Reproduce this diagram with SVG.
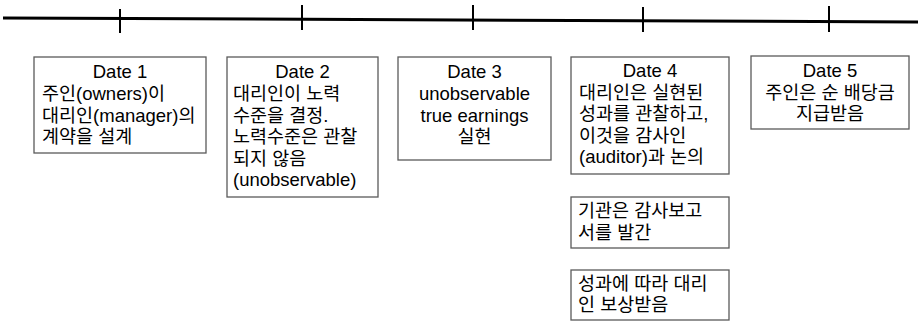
<svg xmlns="http://www.w3.org/2000/svg" width="918" height="322" viewBox="0 0 918 322">
<style>
.box{fill:#fff;stroke:#5a5a5a;stroke-width:1.3}
.t{font-family:"Liberation Sans","Noto Sans CJK KR",sans-serif;font-size:18.5px;fill:#000}
.c{text-anchor:middle}
.tick{stroke:#000;stroke-width:2}
</style>
<rect width="918" height="322" fill="#fff"/>
<g id="timeline">
<line x1="3" y1="18" x2="918" y2="22" stroke="#000" stroke-width="3"/>
<line class="tick" x1="120" y1="9" x2="120" y2="33"/>
<line class="tick" x1="302" y1="5" x2="302" y2="30"/>
<line class="tick" x1="473" y1="5" x2="473" y2="30"/>
<line class="tick" x1="643" y1="7" x2="643" y2="32"/>
<line class="tick" x1="829" y1="6" x2="829" y2="32"/>
</g>
<g id="connectors"></g>
<g id="date1">
<rect class="box" x="34" y="57" width="172" height="96"/>
<text class="t"><tspan class="c" x="120" y="78">Date 1</tspan><tspan x="42" y="100">주인(owners)이</tspan><tspan x="42" y="121.5">대리인(manager)의</tspan><tspan x="42" y="143">계약을 설계</tspan></text>
</g>
<g id="date2">
<rect class="box" x="227" y="57" width="151" height="140"/>
<text class="t"><tspan class="c" x="302.5" y="78">Date 2</tspan><tspan x="233" y="100">대리인이 노력</tspan><tspan x="233" y="121.5">수준을 결정.</tspan><tspan x="233" y="143">노력수준은 관찰</tspan><tspan x="233" y="164.5">되지 않음</tspan><tspan x="233" y="186">(unobservable)</tspan></text>
</g>
<g id="date3">
<rect class="box" x="398" y="57" width="153" height="103"/>
<text class="t c"><tspan x="474.5" y="78">Date 3</tspan><tspan x="474.5" y="100">unobservable</tspan><tspan x="474.5" y="121.5">true earnings</tspan><tspan x="474.5" y="143">실현</tspan></text>
</g>
<g id="date4">
<rect class="box" x="571" y="57" width="158" height="117"/>
<text class="t"><tspan class="c" x="650" y="77">Date 4</tspan><tspan x="579" y="98.5">대리인은 실현된</tspan><tspan x="579" y="120">성과를 관찰하고,</tspan><tspan x="579" y="141.5">이것을 감사인</tspan><tspan x="579" y="163">(auditor)과 논의</tspan></text>
</g>
<g id="date5">
<rect class="box" x="751" y="56" width="158" height="73"/>
<text class="t c"><tspan x="830" y="77">Date 5</tspan><tspan x="830" y="98.5">주인은 순 배당금</tspan><tspan x="830" y="120">지급받음</tspan></text>
</g>
<g id="report">
<rect class="box" x="571" y="197" width="158" height="51"/>
<text class="t"><tspan x="578" y="217">기관은 감사보고</tspan><tspan x="578" y="239">서를 발간</tspan></text>
</g>
<g id="compensation">
<rect class="box" x="571" y="270" width="158" height="50"/>
<text class="t"><tspan x="578" y="289.5">성과에 따라 대리</tspan><tspan x="578" y="311">인 보상받음</tspan></text>
</g>
</svg>
